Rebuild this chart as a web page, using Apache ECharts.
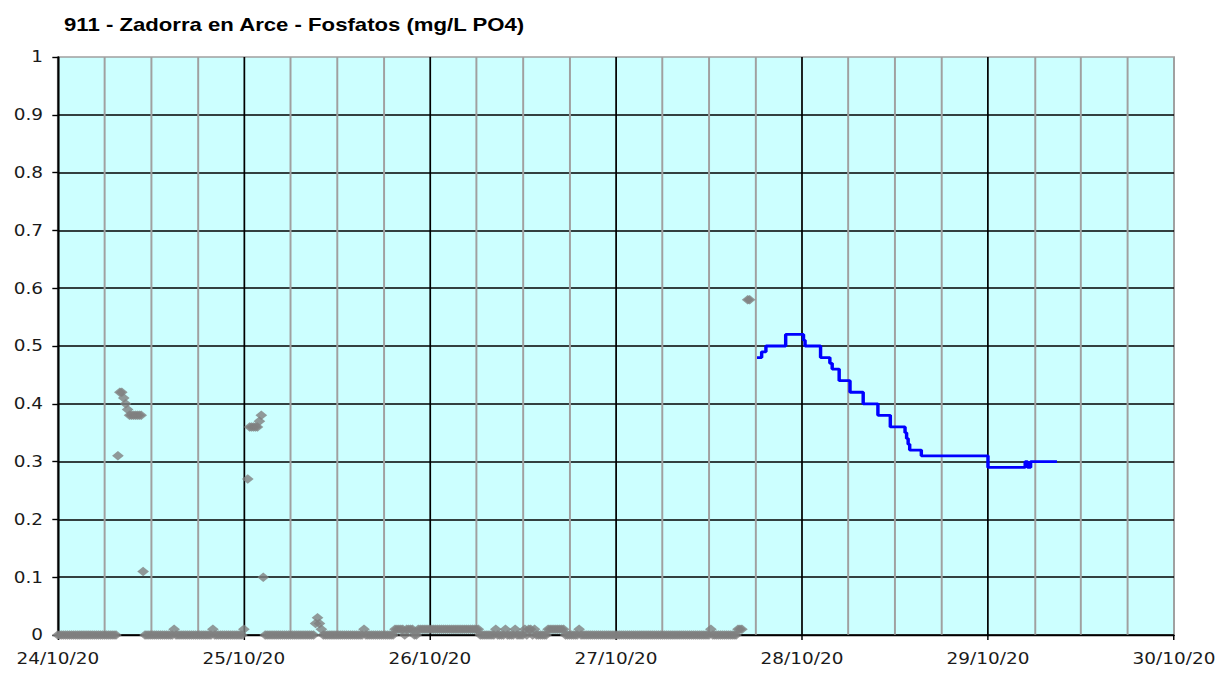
<!DOCTYPE html>
<html>
<head>
<meta charset="utf-8">
<title>911 - Zadorra en Arce - Fosfatos</title>
<script src="https://cdn.jsdelivr.net/npm/echarts@6/dist/echarts.min.js"></script>
<style>
  html, body { margin: 0; padding: 0; background: #fff; overflow: hidden; }
  /* the original picture is stretched sideways, so the chart is drawn 1000px wide and scaled */
  #chart { width: 1000px; height: 675px; transform: scaleX(1.231); transform-origin: 0 0; }
</style>
</head>
<body>
<div id="chart"></div>
<script>
var chartTitle = '911 - Zadorra en Arce - Fosfatos (mg/L PO4)';
var dayLabels = ['24/10/20', '25/10/20', '26/10/20', '27/10/20', '28/10/20', '29/10/20', '30/10/20'];

// grey readings, one every 15 min, hours counted from 24/10/20 00:00 (one line = 6 h)
var greyStart = 0;
var greyStep = 0.25;
var greyValues = [
  0, 0, 0, 0, 0, 0, 0, 0, 0, 0, 0, 0, 0, 0, 0, 0, 0, 0, 0, 0, 0, 0, 0, 0,
  0, 0, 0, 0, 0, 0, 0, 0.31, 0.42, 0.42, 0.41, 0.40, 0.39, 0.38, 0.38, 0.38, 0.38, 0.38, 0.38, 0.38, 0.11, 0, 0, 0,
  0, 0, 0, 0, 0, 0, 0, 0, 0, 0, 0, 0, 0.01, 0, 0, 0, 0, 0, 0, 0, 0, 0, 0, 0,
  0, 0, 0, 0, 0, 0, 0, 0, 0.01, 0, 0, 0, 0, 0, 0, 0, 0, 0, 0, 0, 0, 0, 0, 0,
  0.01, null, 0.27, 0.36, 0.36, 0.36, 0.36, 0.36, 0.37, 0.38, 0.10, 0, 0, 0, 0, 0, 0, 0, 0, 0, 0, 0, 0, 0,
  0, 0, 0, 0, 0, 0, 0, 0, 0, 0, 0, 0, 0, 0.02, 0.03, 0.02, 0.01, 0, 0, 0, 0, 0, 0, 0,
  0, 0, 0, 0, 0, 0, 0, 0, 0, 0, 0, 0, 0, 0, 0.01, 0, 0, 0, 0, 0, 0, 0, 0, 0,
  0, 0, 0, 0, 0, 0, 0.01, 0.01, 0.01, 0.01, 0.01, 0, 0.01, 0.01, 0.01, 0.01, 0, 0, 0.01, 0.01, 0.01, 0.01, 0.01, 0.01,
  0.01, 0.01, 0.01, 0.01, 0.01, 0.01, 0.01, 0.01, 0.01, 0.01, 0.01, 0.01, 0.01, 0.01, 0.01, 0.01, 0.01, 0.01, 0.01, 0.01, 0.01, 0.01, 0.01, 0.01,
  0.01, 0.01, 0, 0, 0, 0, 0, 0, 0, 0, 0.01, 0, 0, 0, 0, 0.01, 0, 0, 0, 0, 0.01, 0, 0, 0,
  0, 0.01, 0, 0.01, 0.01, 0, 0.01, 0, 0, 0, 0, 0, 0, 0.01, 0.01, 0.01, 0.01, 0.01, 0.01, 0.01, 0.01, 0.01, 0, 0,
  0, 0, 0, 0, 0, 0.01, 0, 0, 0, 0, 0, 0, 0, 0, 0, 0, 0, 0, 0, 0, 0, 0, 0, 0,
  0, 0, 0, 0, 0, 0, 0, 0, 0, 0, 0, 0, 0, 0, 0, 0, 0, 0, 0, 0, 0, 0, 0, 0,
  0, 0, 0, 0, 0, 0, 0, 0, 0, 0, 0, 0, 0, 0, 0, 0, 0, 0, 0, 0, 0, 0, 0, 0,
  0, 0.01, 0, 0, 0, 0, 0, 0, 0, 0, 0, 0, 0, 0, 0, 0.01, 0.01, 0.01, null, null, 0.58, 0.58
];

// blue readings: hour where the value changes, and the new value
var blueHours = [90.2, 90.8, 91.35, 93.9, 96.2, 96.4, 98.4, 99.6, 99.9, 100.8, 102.2, 103.9, 105.8, 107.4,
  109.3, 109.5, 109.7, 109.9, 111.4, 120.0, 124.8, 125.1, 125.5, 128.9];
var blueValues = [0.48, 0.49, 0.50, 0.52, 0.51, 0.50, 0.48, 0.47, 0.46, 0.44, 0.42, 0.40, 0.38, 0.36,
  0.35, 0.34, 0.33, 0.32, 0.31, 0.29, 0.30, 0.29, 0.30, 0.30];

var greyData = [];
greyValues.forEach(function (v, i) {
  if (v !== null) greyData.push([greyStart + i * greyStep, v]);
});
var blueData = blueHours.map(function (h, i) { return [h, blueValues[i]]; });

var labelFont = 'DejaVu Sans';
var chart = echarts.init(document.getElementById('chart'), null, { renderer: 'svg' });
chart.setOption({
  animation: false,
  backgroundColor: '#ffffff',
  title: {
    text: chartTitle,
    left: 47,
    top: 11,
    textStyle: { fontFamily: 'Liberation Sans', fontWeight: 'bold', fontSize: 18, color: '#000' }
  },
  grid: {
    left: 47, right: 46.3, top: 57, bottom: 40,
    show: true, backgroundColor: '#ccffff', borderColor: '#a0a0a0', borderWidth: 1.6
  },
  xAxis: {
    type: 'value', min: 0, max: 144, interval: 24,
    axisLine: { show: true, onZero: false, lineStyle: { color: '#000', width: 1.4 } },
    axisTick: { show: true, length: 5, lineStyle: { color: '#000', width: 1.2 } },
    axisLabel: {
      margin: 16, fontFamily: labelFont, fontSize: 15, color: '#1a1a1a',
      formatter: function (v) { return dayLabels[Math.round(v / 24)]; }
    },
    splitLine: { show: true, showMaxLine: false, lineStyle: { color: '#000', width: 1.4 } },
    minorTick: { show: false, splitNumber: 4 },
    minorSplitLine: { show: true, lineStyle: { color: '#a0a0a0', width: 1.6 } }
  },
  yAxis: {
    type: 'value', min: 0, max: 1, interval: 0.1,
    axisLine: { show: true, lineStyle: { color: '#000', width: 1.4 } },
    axisTick: { show: true, length: 4.5, lineStyle: { color: '#000', width: 1.4 } },
    axisLabel: { margin: 12, fontFamily: labelFont, fontSize: 15, color: '#1a1a1a' },
    splitLine: { show: true, showMaxLine: false, lineStyle: { color: '#000', width: 1.7 } }
  },
  series: [
    {
      name: 'grey', type: 'scatter', data: greyData,
      symbol: 'diamond', symbolSize: 9.5,
      itemStyle: { color: '#808080' }
    },
    {
      name: 'blue', type: 'line', data: blueData, step: 'end',
      showSymbol: false, symbol: 'none',
      lineStyle: { color: '#0000ff', width: 2.8 }
    }
  ]
});
</script>
</body>
</html>
